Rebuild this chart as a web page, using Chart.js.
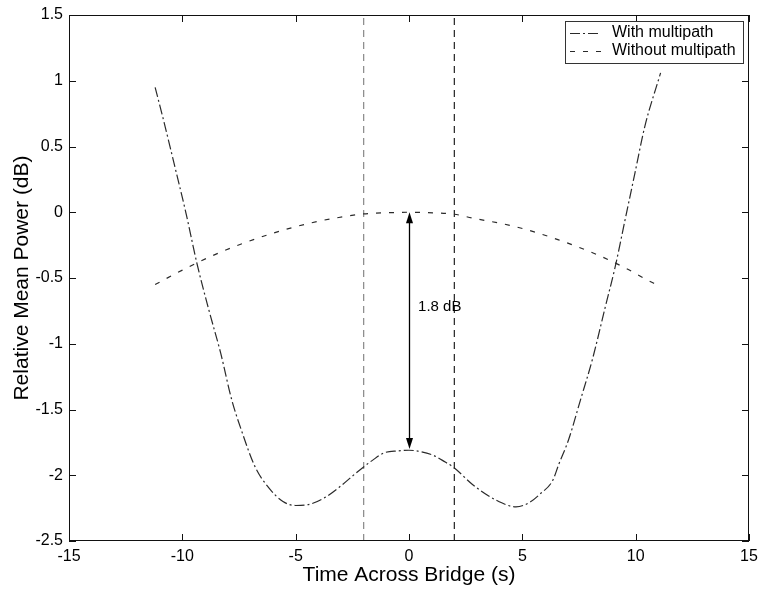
<!DOCTYPE html>
<html>
<head>
<meta charset="utf-8">
<script src="https://cdn.jsdelivr.net/npm/chart.js@4/dist/chart.umd.min.js"></script>
<style>
  html, body { margin: 0; padding: 0; background: #fff; overflow: hidden; }
  #wrap { width: 760px; height: 593px; position: relative; }
</style>
</head>
<body>
<div id="wrap"><canvas id="powerChart" width="760" height="593"></canvas></div>
<script>
// values
const withTimes = [-11.2, -10.8, -10.37, -9.84, -9.36, -8.83, -8.31, -7.83, -7.39, -6.78, -6.21, -5.56, -5.0, -4.5, -3.72, -3.0, -2.28, -1.6, -1.1, -0.5, 0, 0.5, 1.09, 1.6, 1.97, 2.8, 3.85, 4.72, 5.29, 5.8, 6.34, 6.6, 7.04, 7.56, 8.09, 8.66, 9.09, 9.53, 9.97, 10.4, 11.1];
const withPower = [0.95, 0.68, 0.375, -0.006, -0.386, -0.743, -1.07, -1.42, -1.66, -1.94, -2.09, -2.20, -2.23, -2.225, -2.17, -2.08, -1.975, -1.885, -1.83, -1.815, -1.81, -1.82, -1.85, -1.90, -1.94, -2.07, -2.19, -2.24, -2.21, -2.14, -2.04, -1.92, -1.73, -1.43, -1.12, -0.72, -0.42, -0.06, 0.30, 0.65, 1.06];

const withoutTimes = [-11.2, -10.0, -8.4, -6.2, -4.3, -3.1, -2.0, -0.8, 0, 0.8, 2.0, 2.8, 4.7, 6.6, 8.4, 9.5, 10.8, 11.1];
const withoutPower = [-0.55, -0.44, -0.31, -0.17, -0.08, -0.04, -0.013, -0.003, 0, -0.003, -0.015, -0.044, -0.11, -0.21, -0.33, -0.42, -0.54, -0.56];

const markerTimes = [-2, 2];
const markerColors = ['#888', '#222'];

const arrowTime = 0;
const arrowTop = 0;
const arrowBottom = -1.8;
const arrowLabel = '1.8 dB';
const arrowLabelPos = [0.4, -0.72];

const seriesNames = ['With multipath', 'Without multipath'];
const seriesDash = [[10, 3, 2, 3], [5, 8]];

const xTicks = { min: -15, max: 15, step: 5 };
const yTicks = { min: -2.5, max: 1.5, step: 0.5 };

const FONT = "'Liberation Sans', Arial, sans-serif";

function toPoints(xs, ys) {
    return xs.map((x, i) => ({ x: x, y: ys[i] }));
}

const datasets = [
    {
        label: seriesNames[0],
        data: toPoints(withTimes, withPower),
        borderColor: '#2a2a2a',
        borderWidth: 1.2,
        borderDash: seriesDash[0],
        pointRadius: 0,
        cubicInterpolationMode: 'monotone',
        showLine: true
    },
    {
        label: seriesNames[1],
        data: toPoints(withoutTimes, withoutPower),
        borderColor: '#2a2a2a',
        borderWidth: 1.2,
        borderDash: seriesDash[1],
        pointRadius: 0,
        cubicInterpolationMode: 'monotone',
        showLine: true
    }
];

markerTimes.forEach((t, i) => {
    datasets.push({
        label: 'marker' + i,
        data: [{ x: t, y: yTicks.min }, { x: t, y: yTicks.max }],
        borderColor: markerColors[i],
        borderWidth: 1.2,
        borderDash: [7, 5],
        pointRadius: 0,
        showLine: true
    });
});

function arrowHead(ctx, x, y, dir) {
    ctx.beginPath();
    ctx.moveTo(x, y);
    ctx.lineTo(x - 3.5, y + dir * 11);
    ctx.lineTo(x + 3.5, y + dir * 11);
    ctx.closePath();
    ctx.fill();
}

// box, inward ticks, arrow annotation and legend, matlab style
const figureExtras = {
    id: 'figureExtras',
    afterDraw(chart) {
        const { ctx, chartArea: a, scales } = chart;
        const xs = scales.x, ys = scales.y;
        ctx.save();
        ctx.strokeStyle = '#111';
        ctx.lineWidth = 1;
        ctx.setLineDash([]);
        ctx.strokeRect(a.left + 0.5, a.top + 0.5, a.right - a.left - 1, a.bottom - a.top - 1);

        ctx.beginPath();
        for (let v = xTicks.min; v <= xTicks.max; v += xTicks.step) {
            const px = Math.round(xs.getPixelForValue(v)) + 0.5;
            ctx.moveTo(px, a.bottom); ctx.lineTo(px, a.bottom - 7);
            ctx.moveTo(px, a.top); ctx.lineTo(px, a.top + 7);
        }
        for (let v = yTicks.min; v <= yTicks.max; v += yTicks.step) {
            const py = Math.round(ys.getPixelForValue(v)) + 0.5;
            ctx.moveTo(a.left, py); ctx.lineTo(a.left + 7, py);
            ctx.moveTo(a.right, py); ctx.lineTo(a.right - 7, py);
        }
        ctx.stroke();

        // double arrow
        const ax = Math.round(xs.getPixelForValue(arrowTime)) + 0.5;
        const y1 = ys.getPixelForValue(arrowTop);
        const y2 = ys.getPixelForValue(arrowBottom);
        ctx.fillStyle = '#000';
        ctx.strokeStyle = '#000';
        ctx.lineWidth = 1.3;
        ctx.beginPath();
        ctx.moveTo(ax, y1 + 8);
        ctx.lineTo(ax, y2 - 8);
        ctx.stroke();
        arrowHead(ctx, ax, y1, 1);
        arrowHead(ctx, ax, y2, -1);

        ctx.font = '15px ' + FONT;
        ctx.textBaseline = 'middle';
        ctx.textAlign = 'left';
        ctx.fillText(arrowLabel, xs.getPixelForValue(arrowLabelPos[0]), ys.getPixelForValue(arrowLabelPos[1]));

        // legend
        const lx = 565, ly = 21, lw = 178, lh = 42;
        ctx.lineWidth = 1;
        ctx.strokeStyle = '#333';
        ctx.fillStyle = '#fff';
        ctx.fillRect(lx, ly, lw, lh);
        ctx.strokeRect(lx + 0.5, ly + 0.5, lw, lh);
        ctx.font = '16px ' + FONT;
        ctx.fillStyle = '#000';
        const rows = [ly + 12, ly + 30];
        seriesNames.forEach((name, i) => {
            ctx.strokeStyle = '#2a2a2a';
            ctx.lineWidth = 1.2;
            ctx.setLineDash(seriesDash[i]);
            ctx.beginPath();
            ctx.moveTo(lx + 5, rows[i] + 0.5);
            ctx.lineTo(lx + 36, rows[i] + 0.5);
            ctx.stroke();
            ctx.fillText(name, lx + 47, rows[i]);
        });
        ctx.restore();
    }
};

new Chart(document.getElementById('powerChart').getContext('2d'), {
    type: 'scatter',
    data: { datasets: datasets },
    options: {
        responsive: false,
        animation: false,
        devicePixelRatio: 1,
        layout: { padding: { left: 0, right: 11, top: 15, bottom: 0 } },
        plugins: {
            legend: { display: false },
            tooltip: { enabled: false }
        },
        scales: {
            x: {
                type: 'linear',
                min: xTicks.min,
                max: xTicks.max,
                grid: { display: false, drawTicks: false },
                border: { display: false },
                ticks: {
                    stepSize: xTicks.step,
                    color: '#000',
                    padding: 6,
                    maxRotation: 0,
                    font: { family: FONT, size: 16 },
                    callback: v => String(v)
                },
                title: {
                    display: true,
                    text: 'Time Across Bridge (s)',
                    color: '#000',
                    font: { family: FONT, size: 21 },
                    padding: { top: 0, bottom: 5 }
                },
                afterFit(scale) {
                    scale.height = 52;
                    scale.paddingLeft = 0;
                    scale.paddingRight = 0;
                }
            },
            y: {
                type: 'linear',
                min: yTicks.min,
                max: yTicks.max,
                grid: { display: false, drawTicks: false },
                border: { display: false },
                ticks: {
                    stepSize: yTicks.step,
                    color: '#000',
                    padding: 6,
                    font: { family: FONT, size: 16 },
                    callback: v => String(v)
                },
                title: {
                    display: true,
                    text: 'Relative Mean Power (dB)',
                    color: '#000',
                    font: { family: FONT, size: 21 },
                    padding: { top: 10, bottom: 0 }
                },
                afterFit(scale) {
                    scale.width = 69;
                    scale.paddingTop = 0;
                    scale.paddingBottom = 0;
                }
            }
        }
    },
    plugins: [figureExtras]
});
</script>
</body>
</html>
